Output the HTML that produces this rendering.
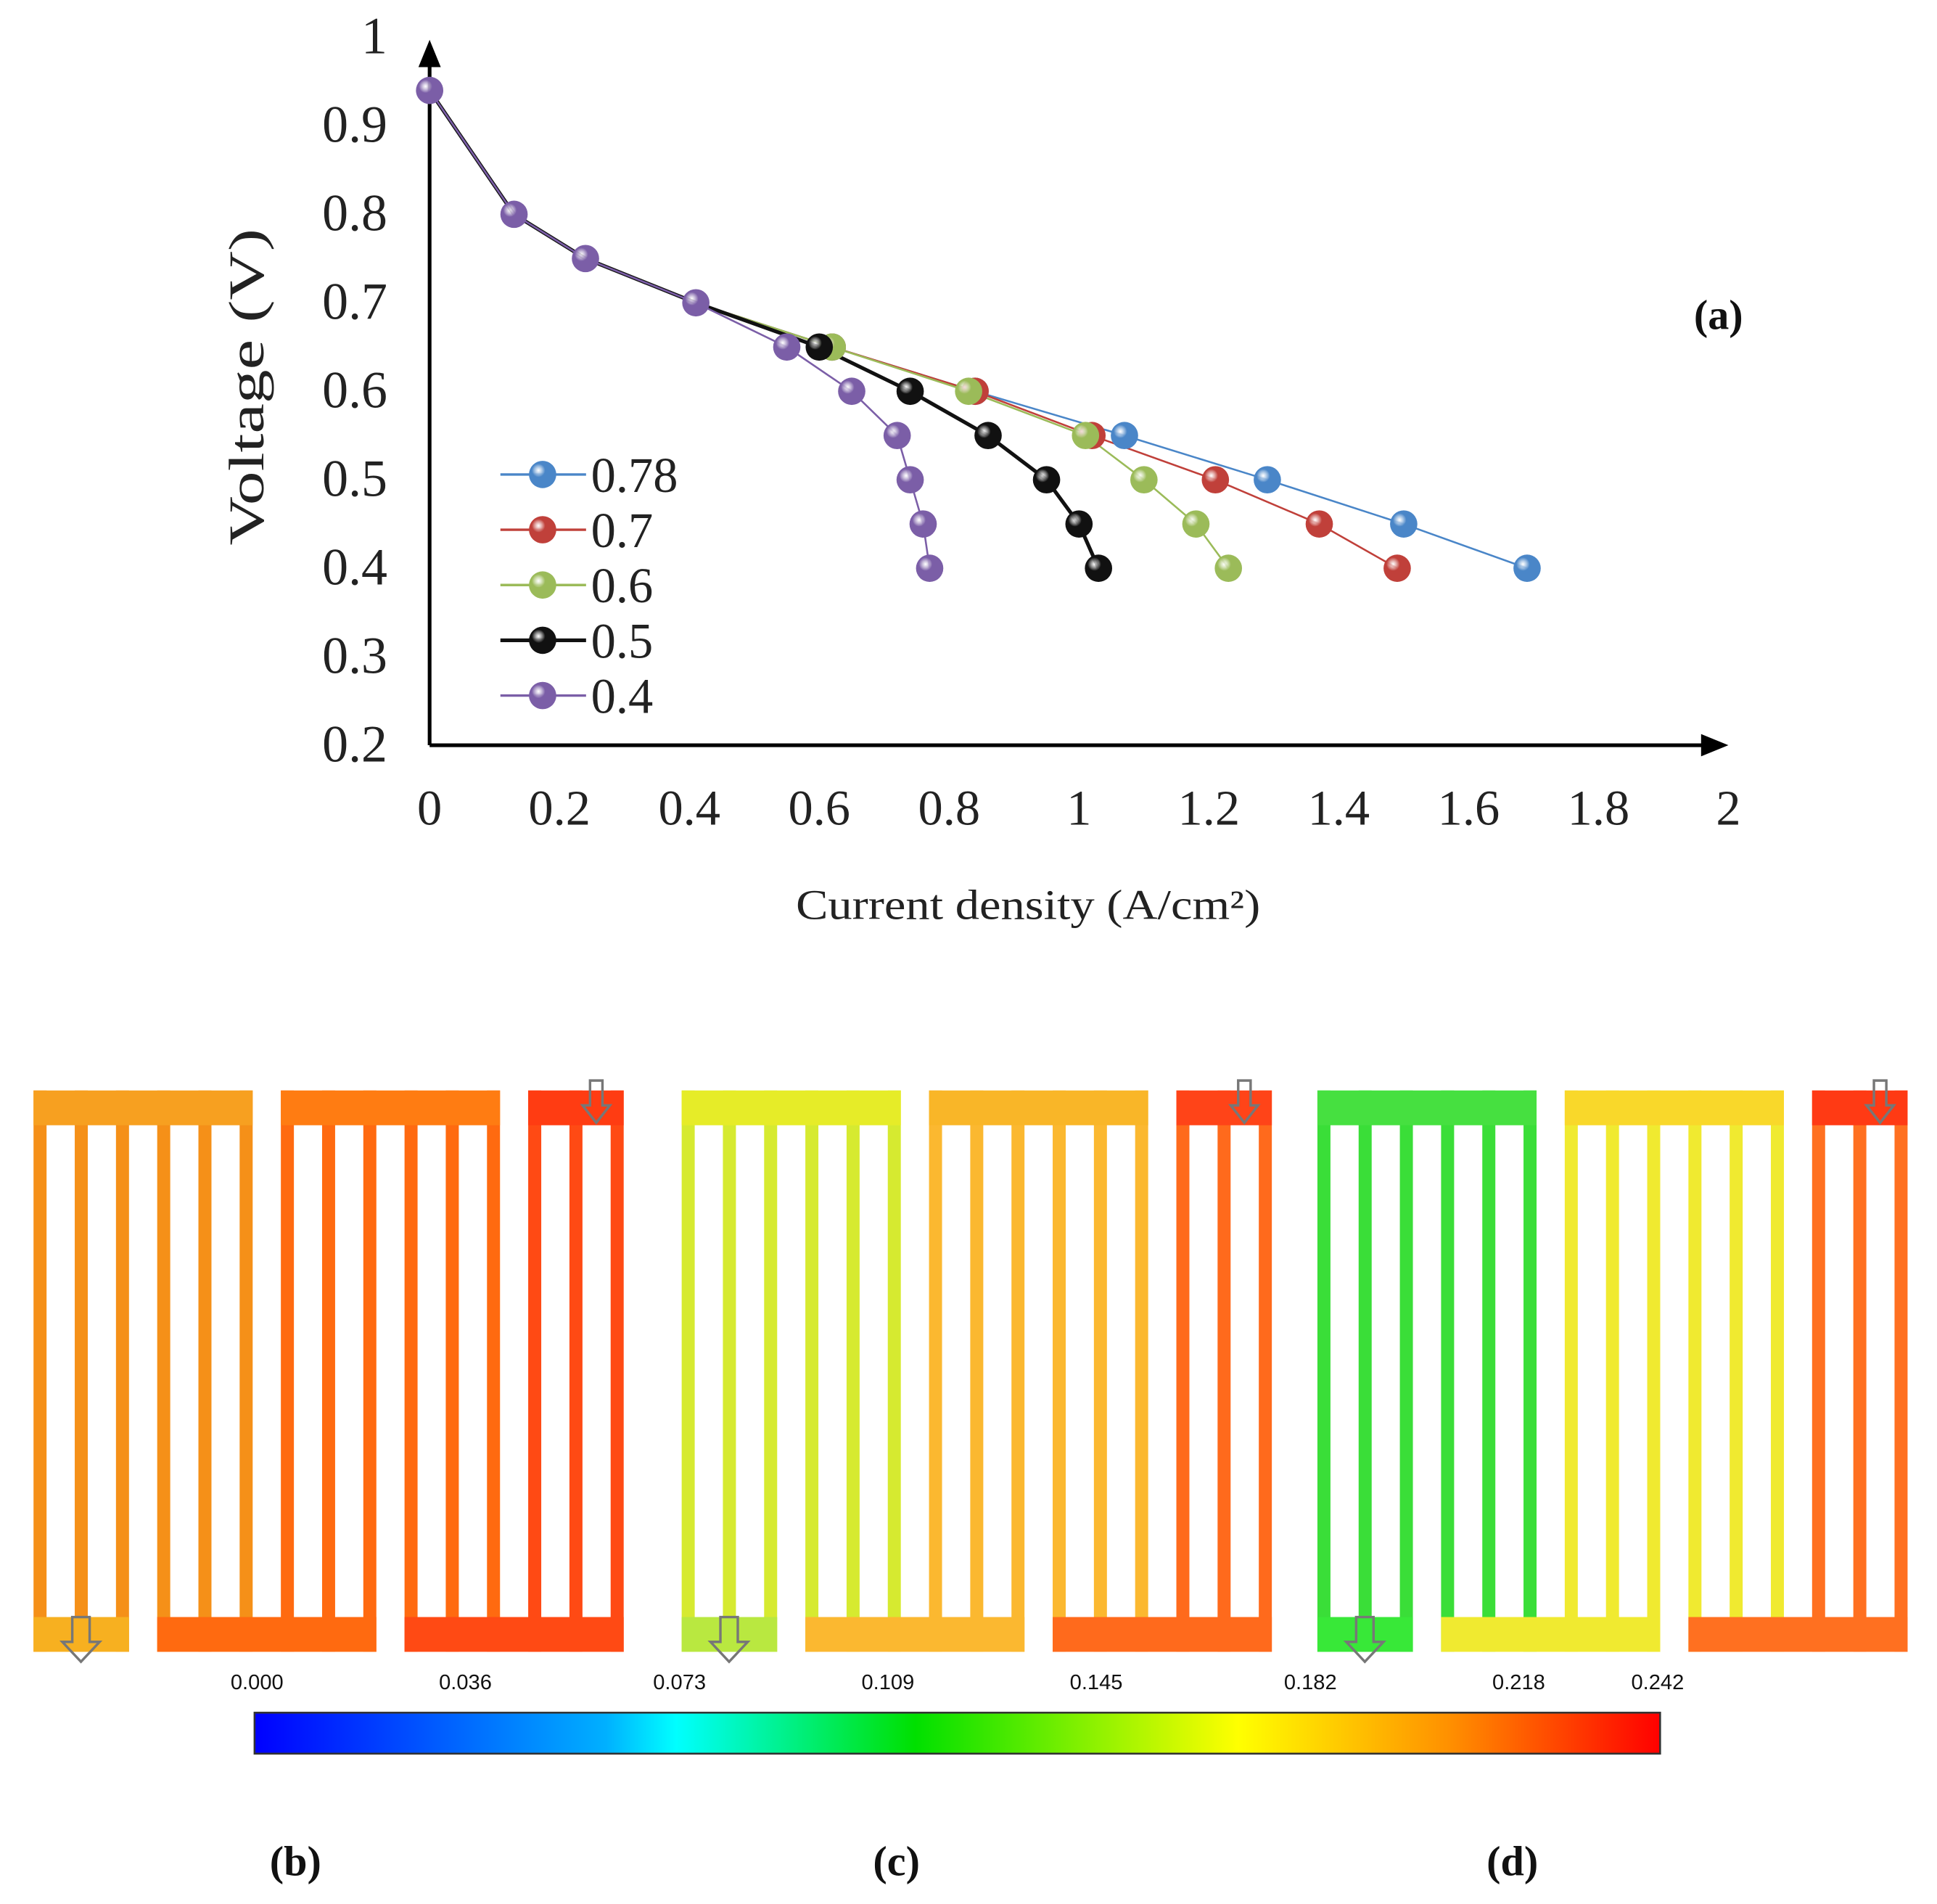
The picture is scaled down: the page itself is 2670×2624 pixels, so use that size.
<!DOCTYPE html>
<html><head><meta charset="utf-8"><style>
html,body{margin:0;padding:0;background:#fff;}
svg{display:block;font-family:"Liberation Serif",serif;}
</style></head><body>
<svg id="fig" width="2670" height="2624" viewBox="0 0 1560 1533" xmlns="http://www.w3.org/2000/svg">
<defs>
<linearGradient id="jet" x1="0" x2="1" y1="0" y2="0">
<stop offset="0" stop-color="#0000ff"/><stop offset="0.25" stop-color="#00b0ff"/><stop offset="0.3" stop-color="#00ffff"/>
<stop offset="0.47" stop-color="#00e000"/><stop offset="0.7" stop-color="#ffff00"/><stop offset="0.85" stop-color="#ff9000"/><stop offset="1" stop-color="#ff0000"/>
</linearGradient>
</defs>
<g id="chart"></g>
<g id="fields"></g>
</svg>
<script>
const NS='http://www.w3.org/2000/svg';
const xTicks=['0','0.2','0.4','0.6','0.8','1','1.2','1.4','1.6','1.8','2'];
const yTicks=['0.2','0.3','0.4','0.5','0.6','0.7','0.8','0.9','1'];
const seriesNames=['0.78','0.7','0.6','0.5','0.4'];
const seriesColors=['#4a86c8','#c0403a','#9bbb59','#111111','#7b5ea7'];
const commonX=[0,0.13,0.24,0.41];
const commonY=[0.94,0.8,0.75,0.7];
const x078=[0.62,0.84,1.07,1.29,1.5,1.69];
const y078=[0.65,0.6,0.55,0.5,0.45,0.4];
const x07=[0.62,0.84,1.02,1.21,1.37,1.49];
const y07=[0.65,0.6,0.55,0.5,0.45,0.4];
const x06=[0.62,0.83,1.01,1.1,1.18,1.23];
const y06=[0.65,0.6,0.55,0.5,0.45,0.4];
const x05=[0.6,0.74,0.86,0.95,1.0,1.03];
const y05=[0.65,0.6,0.55,0.5,0.45,0.4];
const x04=[0.55,0.65,0.72,0.74,0.76,0.77];
const y04=[0.65,0.6,0.55,0.5,0.45,0.4];
const cbLabels=['0.000','0.036','0.073','0.109','0.145','0.182','0.218','0.242'];
const cbValues=[0,0.036,0.073,0.109,0.145,0.182,0.218,0.242];

const X=v=>346+v*523;
const Y=v=>600-(v-0.2)*712.5;
function el(tag,attrs,parent,text){const e=document.createElementNS(NS,tag);for(const k in attrs)e.setAttribute(k,attrs[k]);if(text!==undefined)e.textContent=text;parent.appendChild(e);return e;}
const chart=document.getElementById('chart');
const defs=document.querySelector('defs');
seriesColors.forEach((c,i)=>{const g=el('radialGradient',{id:'ball'+i,cx:'0.35',cy:'0.35',r:'0.7'},defs);el('stop',{offset:'0','stop-color':'#fff','stop-opacity':'0.8'},g);el('stop',{offset:'0.35','stop-color':c},g);el('stop',{offset:'1','stop-color':c},g);});
let ax1=el('line',{x1:346,y1:600,x2:1380,y2:600,stroke:'#000','stroke-width':3},chart);


el('polygon',{points:'1392,600 1370,591 1370,609',fill:'#000'},chart);
let ax2=el('line',{x1:346,y1:600,x2:346,y2:45,stroke:'#000','stroke-width':3},chart);


el('polygon',{points:'346,32 337,54 355,54',fill:'#000'},chart);
xTicks.forEach(t=>{const e=el('text',{x:X(parseFloat(t)),y:664,'font-size':40,'text-anchor':'middle',fill:'#222'},chart,t);

});
yTicks.forEach(t=>{const e=el('text',{x:312,y:Y(parseFloat(t))+13,'font-size':42,'text-anchor':'end',fill:'#222'},chart,t);

});
let tt=el('text',{x:641,y:740,'font-size':34,textLength:374,lengthAdjust:'spacingAndGlyphs',fill:'#222'},chart,'Current density (A/cm²)');


tt=el('text',{x:-127,y:0,'font-size':40,textLength:255,lengthAdjust:'spacingAndGlyphs',fill:'#222',transform:'translate(212,312) rotate(-90)'},chart,'Voltage (V)');


tt=el('text',{x:1384,y:265,'font-size':34,'font-weight':'bold','text-anchor':'middle',fill:'#111'},chart,'(a)');


const xs=[x078,x07,x06,x05,x04],ys=[y078,y07,y06,y05,y04];
for(let i=0;i<5;i++){
 const px=commonX.concat(xs[i]),py=commonY.concat(ys[i]);
 const pl=el('polyline',{points:px.map((v,j)=>X(v)+','+Y(py[j])).join(' '),fill:'none',stroke:seriesColors[i],'stroke-width':i==3?3:1.5},chart);
 
 
}
for(let i=0;i<5;i++){
 const px=commonX.concat(xs[i]),py=commonY.concat(ys[i]);
 px.forEach((v,j)=>{if(j<4&&i<4)return;const c=el('circle',{cx:X(v),cy:Y(py[j]),r:11,fill:'url(#ball'+i+')'},chart);
 
 });
}
seriesNames.forEach((n,i)=>{const y=382+i*44.5;
 const g=el('g',{},chart);
 
 
 el('line',{x1:403,y1:y,x2:472,y2:y,stroke:seriesColors[i],'stroke-width':i==3?3:2},g);
 el('circle',{cx:437,cy:y,r:11,fill:'url(#ball'+i+')'},g);
 el('text',{x:476,y:y+14,'font-size':40,fill:'#222'},g,n);});
const F=document.getElementById('fields');
const panels=[{x:27,cols:[['#f7a020','#f59018'],['#ff7c12','#ff6a10'],['#ff3c12','#ff4a14']],bot0:'#f7b020',lab:'(b)',lx:238},
 {x:549,cols:[['#e6ec28','#d6ea30'],['#f9b628','#fbb830'],['#ff4418','#ff6a1c']],bot0:'#b9e840',lab:'(c)',lx:722},
 {x:1061,cols:[['#46e040','#3ade38'],['#f9d82a','#f0ea30'],['#ff3a14','#ff7020']],bot0:'#38e838',lab:'(d)',lx:1218}];
const sp=33.2,cw=10.5,topY=878,tb=28,botY=1330,bb=28;
panels.forEach((p,pi)=>{
 const g=el('g',{},F);
 
 
 const segTop=[[0,5],[6,11],[12,14]],segBot=[[0,2],[3,8],[9,14]];
 for(let i=0;i<15;i++){const s=i<6?0:(i<12?1:2);el('rect',{x:p.x+i*sp,y:topY,width:cw,height:botY-topY,fill:p.cols[s][1]},g);}
 segTop.forEach((r,s)=>el('rect',{x:p.x+r[0]*sp,y:topY,width:(r[1]-r[0])*sp+cw,height:tb,fill:p.cols[s][0]},g));
 segBot.forEach((r,s)=>el('rect',{x:p.x+r[0]*sp,y:botY-bb,width:(r[1]-r[0])*sp+cw,height:bb,fill:s==0?p.bot0:p.cols[s][1]},g));
 const axx=p.x+13.5*sp+5;
 el('path',{d:`M${axx-5} ${topY-8} h10 v20 h6 l-11 14 l-11 -14 h6 z`,fill:'none',stroke:'#777','stroke-width':2},g);
 const bx=p.x+sp+5;
 el('path',{d:`M${bx-7} ${botY-28} h14 v20 h8 l-15 16 l-15 -16 h8 z`,fill:'none',stroke:'#777','stroke-width':2},g);
 const l=el('text',{x:p.lx,y:1510,'font-size':34,'font-weight':'bold','text-anchor':'middle',fill:'#111'},F,p.lab);
 
 
});
const cb=el('rect',{x:205,y:1379,width:1132,height:33,fill:'url(#jet)',stroke:'#333','stroke-width':1.5},F);


const CX=v=>207+v/0.242*1128;
cbLabels.forEach((s,i)=>{const e=el('text',{x:CX(cbValues[i]),y:1360,'font-size':17,'font-family':'Liberation Sans, sans-serif','text-anchor':'middle',fill:'#111'},F,s);

});
</script>
</body></html>
